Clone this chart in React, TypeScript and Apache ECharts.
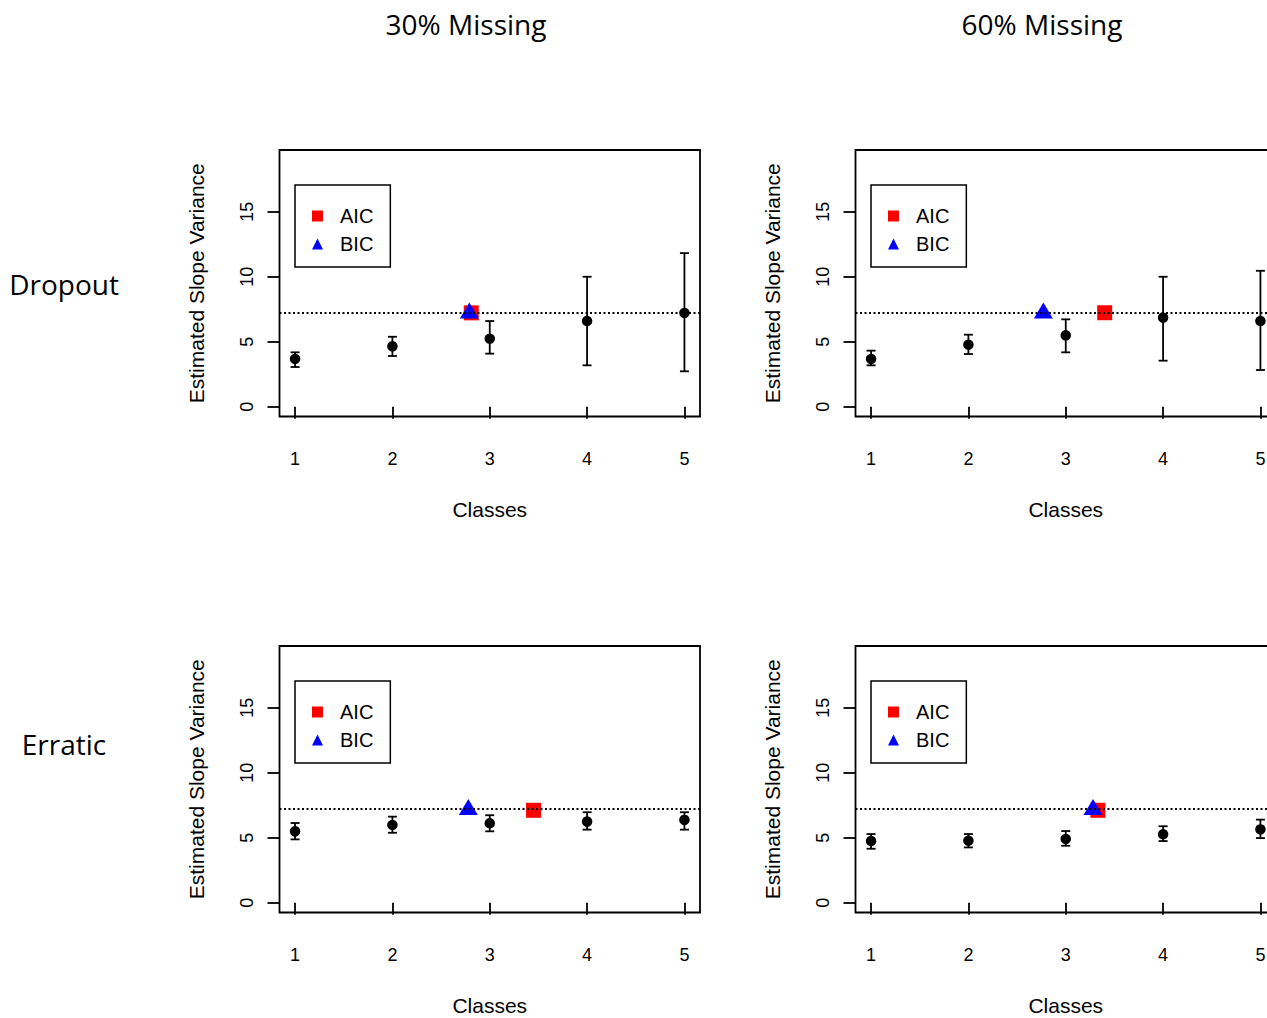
import React, { useEffect, useRef } from "react";
import * as echarts from "echarts";

// Candidate numbers of latent classes on the x axis
const classes = [1, 2, 3, 4, 5];
const yTicks = [0, 5, 10, 15];
const trueSlopeVariance = 7.2;

const columnTitles = ["30% Missing", "60% Missing"];
const rowTitles = ["Dropout", "Erratic"];

// Dropout, 30% missing
const dropout30Mean = [3.67, 4.64, 5.23, 6.59, 7.21];
const dropout30Lower = [3.05, 3.9, 4.08, 3.18, 2.72];
const dropout30Upper = [4.18, 5.38, 6.59, 10.0, 11.82];
const dropout30Aic = [2.81, 7.22];
const dropout30Bic = [2.79, 7.2];

// Dropout, 60% missing
const dropout60Mean = [3.67, 4.77, 5.49, 6.85, 6.59];
const dropout60Lower = [3.18, 4.05, 4.18, 3.54, 2.82];
const dropout60Upper = [4.31, 5.54, 6.72, 10.0, 10.46];
const dropout60Aic = [3.4, 7.23];
const dropout60Bic = [2.77, 7.2];

// Erratic, 30% missing
const erratic30Mean = [5.49, 5.98, 6.11, 6.24, 6.37];
const erratic30Lower = [4.87, 5.38, 5.49, 5.62, 5.62];
const erratic30Upper = [6.13, 6.62, 6.73, 6.96, 6.96];
const erratic30Aic = [3.45, 7.11];
const erratic30Bic = [2.78, 7.15];

// Erratic, 60% missing
const erratic60Mean = [4.74, 4.77, 4.9, 5.26, 5.64];
const erratic60Lower = [4.15, 4.25, 4.38, 4.74, 4.97];
const erratic60Upper = [5.28, 5.28, 5.51, 5.88, 6.39];
const erratic60Aic = [3.33, 7.11];
const erratic60Bic = [3.28, 7.15];

const AXIS_FONT = "'Liberation Sans', Arial, sans-serif";
const TITLE_FONT = "'Open Sans', 'Noto Sans', sans-serif";

const PANEL_W = 420.5;
const PANEL_H = 266.5;
const COL_X = [279.5, 855.5];
const ROW_Y = [150, 646];

const panels = [
  { mean: dropout30Mean, lower: dropout30Lower, upper: dropout30Upper, aic: dropout30Aic, bic: dropout30Bic, col: 0, row: 0 },
  { mean: dropout60Mean, lower: dropout60Lower, upper: dropout60Upper, aic: dropout60Aic, bic: dropout60Bic, col: 1, row: 0 },
  { mean: erratic30Mean, lower: erratic30Lower, upper: erratic30Upper, aic: erratic30Aic, bic: erratic30Bic, col: 0, row: 1 },
  { mean: erratic60Mean, lower: erratic60Lower, upper: erratic60Upper, aic: erratic60Aic, bic: erratic60Bic, col: 1, row: 1 },
];

function buildOption() {
  const lw = 1.8;
  const grid = panels.map((p) => ({
    left: COL_X[p.col],
    top: ROW_Y[p.row],
    width: PANEL_W,
    height: PANEL_H,
    show: true,
    borderColor: "#000",
    borderWidth: lw,
    backgroundColor: "transparent",
  }));

  const xAxis = panels.map((_, i) => ({
    type: "value",
    gridIndex: i,
    min: 0.84,
    max: 5.16,
    splitLine: { show: false },
    axisLine: { show: false },
    axisTick: { show: true, customValues: classes, length: 12, lineStyle: { color: "#000", width: lw } },
    axisLabel: { customValues: classes, margin: 33, color: "#000", fontSize: 18, fontFamily: AXIS_FONT },
    name: "Classes",
    nameLocation: "middle",
    nameGap: 82,
    nameTextStyle: { color: "#000", fontSize: 21, fontFamily: AXIS_FONT },
  }));

  const yAxis = panels.map((_, i) => ({
    type: "value",
    gridIndex: i,
    min: -0.76,
    max: 19.76,
    splitLine: { show: false },
    axisLine: { show: false },
    axisTick: { show: true, customValues: yTicks, length: 12, lineStyle: { color: "#000", width: lw } },
    axisLabel: { customValues: yTicks, rotate: 90, margin: 24, color: "#000", fontSize: 18, fontFamily: AXIS_FONT },
    name: "Estimated Slope Variance",
    nameLocation: "middle",
    nameRotate: 90,
    nameGap: 73,
    nameTextStyle: { color: "#000", fontSize: 21, fontFamily: AXIS_FONT },
  }));

  const series: any[] = [];
  panels.forEach((p, i) => {
    series.push({
      type: "custom",
      xAxisIndex: i,
      yAxisIndex: i,
      silent: true,
      encode: { x: 0, y: [1, 2] },
      data: classes.map((c, j) => [c, p.lower[j], p.upper[j]]),
      renderItem: (_params: any, api: any) => {
        const x = api.value(0);
        const hi = api.coord([x, api.value(2)]);
        const lo = api.coord([x, api.value(1)]);
        const half = 4.5;
        const style = { stroke: "#000", lineWidth: lw };
        return {
          type: "group",
          children: [
            { type: "line", shape: { x1: hi[0], y1: hi[1], x2: lo[0], y2: lo[1] }, style },
            { type: "line", shape: { x1: hi[0] - half, y1: hi[1], x2: hi[0] + half, y2: hi[1] }, style },
            { type: "line", shape: { x1: lo[0] - half, y1: lo[1], x2: lo[0] + half, y2: lo[1] }, style },
          ],
        };
      },
    });
    series.push({
      type: "scatter",
      name: "Estimate",
      xAxisIndex: i,
      yAxisIndex: i,
      symbol: "circle",
      symbolSize: 10.5,
      itemStyle: { color: "#000", opacity: 1 },
      data: classes.map((c, j) => [c, p.mean[j]]),
      markLine: {
        silent: true,
        symbol: "none",
        label: { show: false },
        lineStyle: { color: "#000", type: [2, 2.5], width: 1.8, opacity: 1 },
        data: [{ yAxis: trueSlopeVariance }],
      },
    });
    series.push({
      type: "scatter",
      name: "AIC",
      xAxisIndex: i,
      yAxisIndex: i,
      symbol: "rect",
      symbolSize: 15,
      itemStyle: { color: "#ff0000", opacity: 1 },
      data: [p.aic],
    });
    series.push({
      type: "scatter",
      name: "BIC",
      xAxisIndex: i,
      yAxisIndex: i,
      symbol: "triangle",
      symbolSize: [19, 16],
      symbolOffset: [0, -2.7],
      itemStyle: { color: "#0000ff", opacity: 1 },
      data: [p.bic],
    });
  });

  const legend = panels.map((p) => ({
    orient: "vertical",
    left: COL_X[p.col] + 15.5,
    top: ROW_Y[p.row] + 35,
    selectedMode: false,
    borderColor: "#000",
    borderWidth: 1.5,
    borderRadius: 0,
    padding: [20, 17, 12, 17],
    itemWidth: 11,
    itemHeight: 11,
    itemGap: 6,
    itemStyle: { opacity: 1 },
    textStyle: { color: "#000", fontSize: 20, fontFamily: AXIS_FONT, lineHeight: 20, padding: [2, 0, 0, 12] },
    data: [
      { name: "AIC", icon: "rect" },
      { name: "BIC", icon: "triangle" },
    ],
  }));

  const titleStyle = { fill: "#000", fontSize: 28, fontFamily: TITLE_FONT, align: "center", verticalAlign: "middle" };
  const graphic = [
    ...columnTitles.map((t, k) => ({
      type: "text",
      x: COL_X[k] + 186.5,
      y: 24,
      style: { ...titleStyle, text: t },
    })),
    ...rowTitles.map((t, k) => ({
      type: "text",
      x: 64,
      y: k === 0 ? 284 : 744,
      style: { ...titleStyle, text: t },
    })),
  ];

  return {
    animation: false,
    backgroundColor: "#fff",
    grid,
    xAxis,
    yAxis,
    legend,
    series,
    graphic,
  };
}

export default function App() {
  const ref = useRef<HTMLDivElement>(null);
  useEffect(() => {
    if (!ref.current) return;
    const chart = echarts.init(ref.current, null, { renderer: "svg" });
    chart.setOption(buildOption() as any);
    return () => chart.dispose();
  }, []);
  // The drawing surface is a little wider than the visible page so the
  // right-hand panels can run past the edge, as in the original layout.
  return (
    <div style={{ position: "absolute", left: 0, top: 0, width: 1267, height: 1018, overflow: "hidden", background: "#fff" }}>
      <div ref={ref} style={{ width: 1300, height: 1018 }} />
    </div>
  );
}
